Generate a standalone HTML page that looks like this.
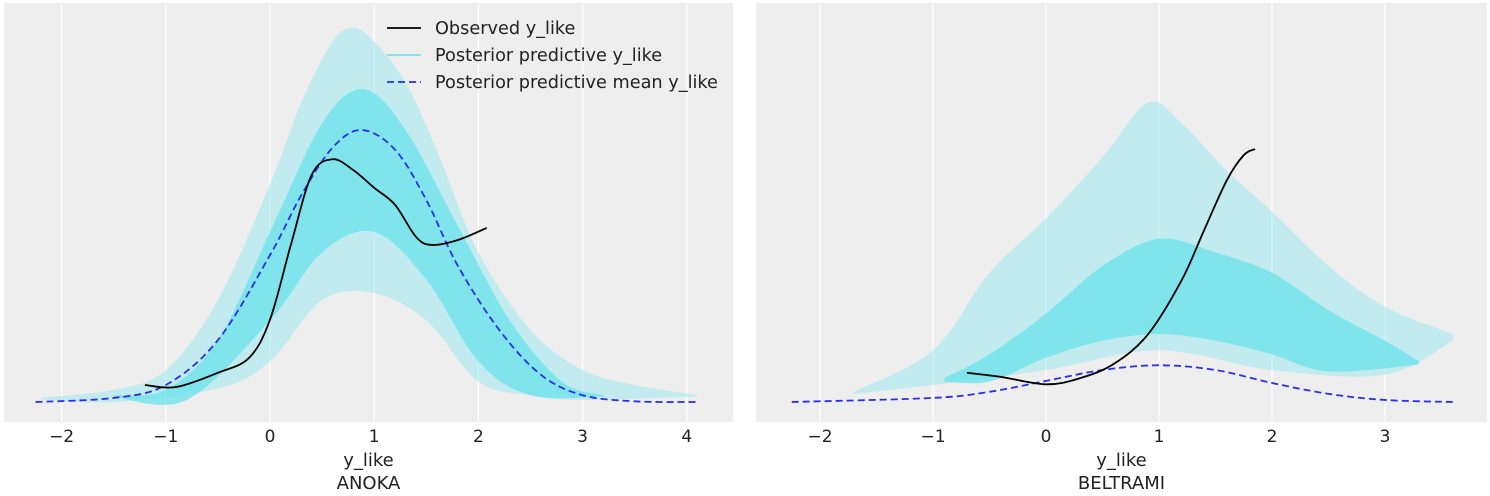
<!DOCTYPE html>
<html><head><meta charset="utf-8"><style>
body{margin:0;background:#fff;}
svg{display:block;font-family:"DejaVu Sans","Liberation Sans",sans-serif;}
</style></head><body>
<svg id="chart" width="1490" height="496"></svg>
<script>
// ---- data ----
const panels = ["ANOKA","BELTRAMI"];
const ticksL = [-2,-1,0,1,2,3,4];
const ticksR = [-2,-1,0,1,2,3];
const meanLx = [-2.25,-1.5,-1,-0.5,0,0.3,0.6,0.88,1.2,1.5,1.8,2.2,2.6,3,3.5,4.1];
const meanLy = [0,0.006,0.025,0.091,0.216,0.304,0.374,0.4,0.371,0.297,0.201,0.106,0.04,0.01,0.001,0];
const obsLx = [-1.2,-0.9,-0.5,-0.2,0,0.2,0.4,0.6,0.8,1.0,1.2,1.4,1.55,1.8,2.08];
const obsLy = [0.025,0.022,0.043,0.065,0.121,0.231,0.334,0.357,0.341,0.315,0.29,0.243,0.231,0.238,0.256];
const outUpLx = [-2.2,-1.5,-1,-0.5,0,0.3,0.6,0.8,1.0,1.3,1.6,2,2.5,3,3.5,4.1];
const outUpLy = [0.006,0.018,0.047,0.15,0.32,0.44,0.53,0.55,0.53,0.47,0.37,0.22,0.106,0.047,0.025,0.01];
const outLoLx = [-2.2,-1.5,-0.5,0,0.5,1,1.5,2,2.5,3,4.1];
const outLoLy = [0.004,0,0.02,0.06,0.15,0.16,0.12,0.03,0.01,0.003,0.008];
const inUpLx = [-1.5,-1,-0.5,0,0.5,0.9,1.3,1.8,2.3,2.8,3.2];
const inUpLy = [0.01,0.018,0.091,0.25,0.41,0.46,0.4,0.26,0.12,0.03,0.01];
const inLoLx = [-1.5,-0.8,0,0.5,1,1.5,2,2.5,3.2];
const inLoLy = [0.008,0.003,0.12,0.22,0.25,0.18,0.06,0.01,0.008];
const meanRx = [-2.25,-1,-0.5,0,0.5,1,1.5,2,2.5,3,3.6];
const meanRy = [0,0.006,0.015,0.031,0.047,0.054,0.047,0.028,0.012,0.003,0];
const obsRx = [-0.7,-0.4,0,0.3,0.6,0.9,1.2,1.4,1.6,1.75,1.85];
const obsRy = [0.043,0.037,0.026,0.035,0.056,0.099,0.179,0.253,0.326,0.363,0.372];
const outUpRx = [-1.7,-1,-0.5,0,0.5,0.9,1.2,1.6,2,2.5,3,3.6];
const outUpRy = [0.015,0.076,0.19,0.27,0.36,0.44,0.41,0.34,0.28,0.2,0.14,0.1];
const outLoRx = [-1.7,-1,0,1,2,3,3.6];
const outLoRy = [0.012,0.025,0.047,0.076,0.047,0.04,0.09];
const inUpRx = [-0.9,-0.5,0,0.5,1,1.5,2,2.5,3,3.3];
const inUpRy = [0.035,0.07,0.13,0.2,0.24,0.22,0.19,0.135,0.09,0.06];
const inLoRx = [-0.9,-0.5,0,0.5,1,1.5,2,2.5,3.3];
const inLoRy = [0.03,0.03,0.065,0.09,0.1,0.09,0.07,0.045,0.055];

// ---- layout ----
const NS="http://www.w3.org/2000/svg";
const svg=document.getElementById('chart');
function el(t,a,p){const e=document.createElementNS(NS,t);for(const k in a)e.setAttribute(k,a[k]);(p||svg).appendChild(e);return e;}
const P=[{x0:4,x1:733,zx:270,kx:104.2,ticks:ticksL},{x0:756,x1:1487,zx:1046,kx:113,ticks:ticksR}];
const base=402, ky=680;
function sx(p,v){return p.zx+v*p.kx;}
function sy(v){return base-v*ky;}
function smooth(pts){
  let d=`M${pts[0][0]},${pts[0][1]}`;
  for(let i=0;i<pts.length-1;i++){
    const p0=pts[Math.max(0,i-1)],p1=pts[i],p2=pts[i+1],p3=pts[Math.min(pts.length-1,i+2)];
    d+=` C${p1[0]+(p2[0]-p0[0])/6},${p1[1]+(p2[1]-p0[1])/6} ${p2[0]-(p3[0]-p1[0])/6},${p2[1]-(p3[1]-p1[1])/6} ${p2[0]},${p2[1]}`;
  }
  return d;
}
function pts(p,xs,ys){return xs.map((x,i)=>[sx(p,x),sy(ys[i])]);}
function band(p,ux,uy,lx,ly,fill,op,name){
  const up=pts(p,ux,uy), lo=pts(p,lx,ly).reverse();
  const d=smooth(up)+' L'+lo[0][0]+','+lo[0][1]+smooth(lo).slice(1).replace(/^[^C]*/,'')+'Z';
  const e=el('path',{d:d,fill:fill,'fill-opacity':op});
  
  
}
function line(p,xs,ys,stroke,dash,name){
  const e=el('path',{d:smooth(pts(p,xs,ys)),fill:'none',stroke:stroke,'stroke-width':1.8});
  if(dash)e.setAttribute('stroke-dasharray',dash);
  
  
}
const series=[
 [outUpLx,outUpLy,outLoLx,outLoLy,inUpLx,inUpLy,inLoLx,inLoLy,meanLx,meanLy,obsLx,obsLy],
 [outUpRx,outUpRy,outLoRx,outLoRy,inUpRx,inUpRy,inLoRx,inLoRy,meanRx,meanRy,obsRx,obsRy]];
P.forEach((p,k)=>{
  const bg=el('rect',{x:p.x0,y:3,width:p.x1-p.x0,height:419,fill:'#eeeeee'});
  
  
  p.ticks.forEach(t=>{
    const g=el('line',{x1:sx(p,t),x2:sx(p,t),y1:3,y2:422,stroke:'#fff','stroke-width':1.2});
    
    
    const tl=el('text',{x:sx(p,t),y:442,'text-anchor':'middle','font-size':17,fill:'#222'});
    tl.textContent=(t<0?'\u2212'+(-t):t);
    
    
  });
  const s=series[k];
  band(p,s[0],s[1],s[2],s[3],'#93e8ee',0.5,'ppc-outer-band');
  band(p,s[4],s[5],s[6],s[7],'#6ae2eb',0.75,'ppc-inner-band');
  line(p,s[8],s[9],'#2a2eec','7,4','posterior-mean-line');
  line(p,s[10],s[11],'#000','','observed-line');
  const cx=(p.x0+p.x1)/2;
  const xl=el('text',{x:cx,y:466,'text-anchor':'middle','font-size':18,fill:'#222'});
  xl.textContent='y_like';
  
  
  const pl=el('text',{x:cx,y:489,'text-anchor':'middle','font-size':18,fill:'#222'});
  pl.textContent=panels[k];
  
  
});
const leg=[['Observed y_like','#000',''],['Posterior predictive y_like','#6fe3ec',''],['Posterior predictive mean y_like','#2a2eec','7,4']];
leg.forEach((l,i)=>{
  const y=28+i*27;
  const ln=el('line',{x1:387,x2:421,y1:y,y2:y,stroke:l[1],'stroke-width':1.8});
  if(l[2])ln.setAttribute('stroke-dasharray',l[2]);
  
  
  const t=el('text',{x:435,y:y+6,'font-size':17.7,fill:'#222'});
  t.textContent=l[0];
  
  
});
</script>
</body></html>
